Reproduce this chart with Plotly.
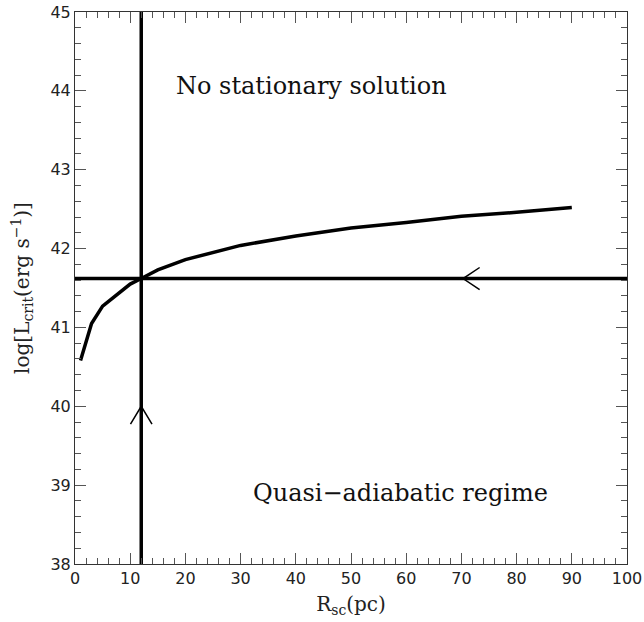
import plotly.graph_objects as go

# Curve data
r_sc = [1, 3, 5, 10, 12, 15, 20, 30, 40, 50, 60, 70, 80, 90]
log_lcrit = [40.58, 41.05, 41.27, 41.55, 41.62, 41.73, 41.86, 42.04, 42.16, 42.26, 42.33, 42.41, 42.46, 42.52]

# Critical values (vertical / horizontal lines)
r_crit = 12.0
l_crit = 41.62

# Arrow apex positions
up_arrow_y = 40.0
left_arrow_x = 70.3

labels = ["No stationary solution", "Quasi\u2212adiabatic regime"]
label_x = [42.8, 59.0]
label_y = [44.06, 38.9]

fig = go.Figure()
lw = 3.5
fig.add_trace(go.Scatter(x=r_sc, y=log_lcrit, mode="lines",
                         line=dict(color="black", width=lw), showlegend=False))
fig.add_trace(go.Scatter(x=[r_crit, r_crit], y=[38, 45], mode="lines",
                         line=dict(color="black", width=lw), showlegend=False))
fig.add_trace(go.Scatter(x=[0, 100], y=[l_crit, l_crit], mode="lines",
                         line=dict(color="black", width=lw), showlegend=False))
# arrow heads
fig.add_trace(go.Scatter(x=[r_crit - 1.95, r_crit, r_crit + 1.95],
                         y=[up_arrow_y - 0.225, up_arrow_y, up_arrow_y - 0.225],
                         mode="lines", line=dict(color="black", width=1.5), showlegend=False))
fig.add_trace(go.Scatter(x=[left_arrow_x + 3.0, left_arrow_x, left_arrow_x + 3.0],
                         y=[l_crit + 0.14, l_crit, l_crit - 0.14],
                         mode="lines", line=dict(color="black", width=1.5), showlegend=False))

for t, x, y in zip(labels, label_x, label_y):
    fig.add_annotation(x=x, y=y, text=t, showarrow=False,
                       font=dict(family="DejaVu Serif", size=24, color="#111"))

axis_common = dict(showgrid=False, zeroline=False, showline=True, linecolor="#333",
                   linewidth=1, mirror="ticks", ticks="inside", ticklen=11,
                   tickcolor="#555", tickwidth=1,
                   tickfont=dict(family="DejaVu Sans", size=16, color="#222"))

fig.update_xaxes(range=[0, 100], dtick=10, tick0=0,
                 minor=dict(ticks="inside", ticklen=6, dtick=2, tickcolor="#555"),
                 title=dict(text="R<sub>sc</sub>(pc)", standoff=9,
                            font=dict(family="DejaVu Serif", size=20, color="#222")),
                 **axis_common)
fig.update_yaxes(range=[38, 45], dtick=1, tick0=38,
                 minor=dict(ticks="inside", ticklen=6, dtick=0.2, tickcolor="#555"),
                 title=dict(text="log[L<sub>crit</sub>(erg s<sup>\u22121</sup>)]", standoff=15,
                            font=dict(family="DejaVu Serif", size=20, color="#222")),
                 **axis_common)

fig.update_layout(width=644, height=622, plot_bgcolor="white", paper_bgcolor="white",
                  margin=dict(l=75, r=17, t=12, b=58, autoexpand=False))
fig.write_html("out.html", config={"displayModeBar": False},
               post_script="document.body.style.margin='0';document.body.style.overflow='hidden';")
